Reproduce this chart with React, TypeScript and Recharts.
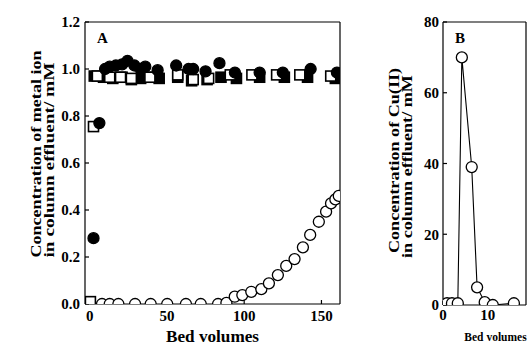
import React from "react";
import { ScatterChart, Scatter, ComposedChart, Line, XAxis, YAxis, ReferenceLine } from "recharts";

const FONT = "'Liberation Serif', 'Times New Roman', serif";

// Panel A: breakthrough of metal ions (bed volumes vs. mM)
const bedOpenCircle = [0.3, 8, 13, 18.6, 29.4, 39.5, 50.2, 62.3, 71.9, 83.1, 88.5, 93.9, 98.8, 104.6, 111.1, 116, 121.8, 127.2, 132.6, 138, 142.7, 148.3, 153, 156.2, 159, 161.2];
const concOpenCircle = [0, 0, 0, 0, 0, 0, 0, 0, 0, 0, 0.005, 0.031, 0.038, 0.052, 0.063, 0.088, 0.123, 0.162, 0.191, 0.241, 0.294, 0.35, 0.393, 0.428, 0.445, 0.46];

const bedFilledCircle = [2.5, 6.3, 10, 13, 17, 21, 24.5, 29, 33, 36, 44, 56, 64, 67, 75, 84, 94, 110, 125, 143, 160];
const concFilledCircle = [0.28, 0.77, 1.0, 1.01, 1.015, 1.02, 1.035, 1.015, 1.0, 1.01, 0.995, 1.015, 1.0, 1.0, 0.99, 1.025, 0.985, 0.985, 0.985, 1.0, 0.985];

const bedOpenSquare = [0.5, 2.5, 5, 13, 20, 27, 39, 57, 67, 77, 91, 105, 121, 136, 156];
const concOpenSquare = [0.01, 0.755, 0.97, 0.965, 0.965, 0.96, 0.965, 0.975, 0.955, 0.96, 0.975, 0.975, 0.975, 0.975, 0.97];

const bedFilledSquare = [3, 9, 15, 21, 27, 33, 38, 45, 57, 66, 76, 85, 95, 110, 126, 141, 159];
const concFilledSquare = [0.97, 0.965, 0.96, 0.965, 0.955, 0.96, 0.965, 0.96, 0.965, 0.95, 0.955, 0.965, 0.96, 0.965, 0.965, 0.965, 0.96];

const xTicksA = [0, 50, 100, 150];
const yTicksA = [0, 0.2, 0.4, 0.6, 0.8, 1.0, 1.2];

// Panel B: Cu(II) elution peak
const bedCu = [0.9, 2.0, 3.3, 4.2, 6.4, 7.6, 9.3, 11.1, 15.8];
const concCu = [0.5, 0.5, 0.5, 70, 39, 5, 0.8, 0, 0.5];

const xTicksB = [0, 10];
const yTicksB = [0, 20, 40, 60, 80];

const zip = (xs: number[], ys: number[]) => xs.map((x, i) => ({ x, y: ys[i] }));

const openCircles = zip(bedOpenCircle, concOpenCircle);
const filledCircles = zip(bedFilledCircle, concFilledCircle);
const openSquares = zip(bedOpenSquare, concOpenSquare);
const filledSquares = zip(bedFilledSquare, concFilledSquare);
const cuData = zip(bedCu, concCu);

const tickStyle = { fill: "#000", fontSize: 15, fontWeight: 700, fontFamily: FONT };

const circle = (fill: string) => (p: any) => (
  <circle cx={p.cx} cy={p.cy} r={5.5} fill={fill} stroke="#000" strokeWidth={1.3} />
);
const square = (fill: string) => (p: any) => (
  <rect x={p.cx - 5} y={p.cy - 5} width={10} height={10} fill={fill} stroke="#000" strokeWidth={1.6} />
);

function YTitle({ viewBox, lines, lengths, shifts }: any) {
  const { x, y, height } = viewBox;
  const cy = y + height / 2;
  return (
    <g>
      {lines.map((t: string, i: number) => {
        const bx = x + 16 + i * 13;
        const by = cy + shifts[i];
        return (
          <text key={i} x={bx} y={by} transform={`rotate(-90 ${bx} ${by})`} textAnchor="middle"
            fontFamily={FONT} fontWeight={700} fontSize={15} fill="#000"
            textLength={lengths[i]} lengthAdjust="spacingAndGlyphs">{t}</text>
        );
      })}
    </g>
  );
}

function XTitle({ viewBox, length, dy, dx, size }: any) {
  const { x, y, width } = viewBox;
  const fit = length ? { textLength: length, lengthAdjust: "spacingAndGlyphs" } : {};
  return (
    <text x={x + width / 2 + dx} y={y + dy} textAnchor="middle" fontFamily={FONT} fontWeight={700}
      fontSize={size} fill="#000" {...fit}>Bed volumes</text>
  );
}

function PanelTag({ viewBox, text }: any) {
  return (
    <text x={viewBox.x + 12} y={viewBox.y + 21} fontFamily={FONT} fontWeight={700} fontSize={15} fill="#000">{text}</text>
  );
}

export default function App() {
  return (
    <div style={{ position: "absolute", left: 0, top: 0, width: 531, height: 349, background: "#fff", overflow: "hidden" }}>
      <div style={{ position: "absolute", left: 0, top: 0 }}>
        <ScatterChart width={345} height={349} margin={{ top: 22, right: 5, bottom: 0, left: 25 }}>
          <XAxis dataKey="x" type="number" domain={[-3, 162]} ticks={xTicksA} allowDataOverflow
            height={45} tickSize={-4} tickMargin={10} tick={tickStyle} stroke="#000" strokeWidth={1.2}
            label={{ content: (p: any) => <XTitle viewBox={p.viewBox} length={93} dy={38} dx={0} size={16} /> }} />
          <YAxis dataKey="y" type="number" domain={[0, 1.2]} ticks={yTicksA} allowDataOverflow
            width={60} tickSize={-4} tickMargin={9} tick={tickStyle} stroke="#000" strokeWidth={1.2}
            tickFormatter={(v: number) => v.toFixed(1)}
            label={{ content: (p: any) => (
              <YTitle viewBox={p.viewBox} lines={["Concentration of metal ion", "in column effluent/ mM"]}
                lengths={[207, 195]} shifts={[-9, -3]} />
            ) }} />
          <ReferenceLine y={1.2} stroke="#000" strokeWidth={1.2}
            label={{ content: (p: any) => <PanelTag viewBox={p.viewBox} text="A" /> }} />
          <ReferenceLine x={162} stroke="#000" strokeWidth={1.2} />
          <Scatter data={openCircles} shape={circle("#fff")} isAnimationActive={false} />
          <Scatter data={filledSquares} shape={square("#000")} isAnimationActive={false} />
          <Scatter data={openSquares} shape={square("#fff")} isAnimationActive={false} />
          <Scatter data={filledCircles} shape={circle("#000")} isAnimationActive={false} />
        </ScatterChart>
      </div>
      <div style={{ position: "absolute", left: 383, top: 0 }}>
        <ComposedChart width={148} height={349} data={cuData} margin={{ top: 22, right: 5, bottom: 0, left: 0 }}>
          <XAxis dataKey="x" type="number" domain={[0, 18.5]} ticks={xTicksB} allowDataOverflow
            height={44} tickSize={-4} tickMargin={8} tick={tickStyle} stroke="#000" strokeWidth={1.2}
            label={{ content: (p: any) => <XTitle viewBox={p.viewBox} dy={36} dx={11} size={11.5} /> }} />
          <YAxis type="number" domain={[0, 80]} ticks={yTicksB} allowDataOverflow
            width={60} tickSize={-4} tickMargin={8} tick={tickStyle} stroke="#000" strokeWidth={1.2}
            label={{ content: (p: any) => (
              <YTitle viewBox={p.viewBox} lines={["Concentration of Cu(II)", "in column effluent/ mM"]}
                lengths={[185, 183]} shifts={[-3, 3]} />
            ) }} />
          <ReferenceLine y={80} stroke="#000" strokeWidth={1.2}
            label={{ content: (p: any) => <PanelTag viewBox={p.viewBox} text="B" /> }} />
          <ReferenceLine x={18.5} stroke="#000" strokeWidth={1.2} />
          <Line dataKey="y" type="linear" stroke="#000" strokeWidth={1.1} isAnimationActive={false}
            dot={circle("#fff")} activeDot={false} />
        </ComposedChart>
      </div>
    </div>
  );
}
